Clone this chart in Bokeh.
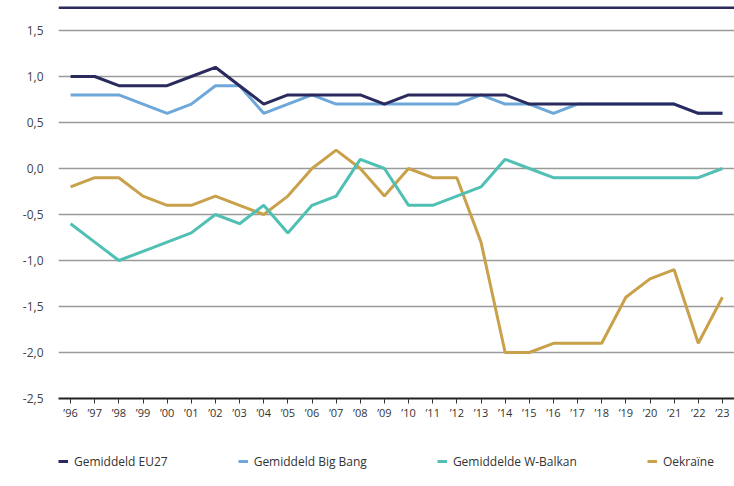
from bokeh.plotting import figure
from bokeh.models import (FactorRange, Range1d, FixedTicker, CustomJSTickFormatter,
                          Legend, LegendItem, Span)
from bokeh.layouts import column
from bokeh.embed import file_html
from bokeh.resources import INLINE

years = ["’96", "’97", "’98", "’99", "’00", "’01", "’02", "’03", "’04", "’05",
         "’06", "’07", "’08", "’09", "’10", "’11", "’12", "’13", "’14", "’15",
         "’16", "’17", "’18", "’19", "’20", "’21", "’22", "’23"]

eu27 = [1.0, 1.0, 0.9, 0.9, 0.9, 1.0, 1.1, 0.9, 0.7, 0.8,
        0.8, 0.8, 0.8, 0.7, 0.8, 0.8, 0.8, 0.8, 0.8, 0.7,
        0.7, 0.7, 0.7, 0.7, 0.7, 0.7, 0.6, 0.6]
big_bang = [0.8, 0.8, 0.8, 0.7, 0.6, 0.7, 0.9, 0.9, 0.6, 0.7,
            0.8, 0.7, 0.7, 0.7, 0.7, 0.7, 0.7, 0.8, 0.7, 0.7,
            0.6, 0.7, 0.7, 0.7, 0.7, 0.7, 0.6, 0.6]
w_balkan = [-0.6, -0.8, -1.0, -0.9, -0.8, -0.7, -0.5, -0.6, -0.4, -0.7,
            -0.4, -0.3, 0.1, 0.0, -0.4, -0.4, -0.3, -0.2, 0.1, 0.0,
            -0.1, -0.1, -0.1, -0.1, -0.1, -0.1, -0.1, 0.0]
oekraine = [-0.2, -0.1, -0.1, -0.3, -0.4, -0.4, -0.3, -0.4, -0.5, -0.3,
            0.0, 0.2, 0.0, -0.3, 0.0, -0.1, -0.1, -0.8, -2.0, -2.0,
            -1.9, -1.9, -1.9, -1.4, -1.2, -1.1, -1.9, -1.4]

series_names = ["Gemiddeld EU27", "Gemiddeld Big Bang", "Gemiddelde W-Balkan", "Oekraïne"]
series_colors = ["#2a2a5e", "#6ea8da", "#4fc0b3", "#c9a14a"]

y_ticks = [-2.5, -2.0, -1.5, -1.0, -0.5, 0.0, 0.5, 1.0, 1.5]
y_labels = ["-2,5", "-2,0", "-1,5", "-1,0", "-0,5", "0,0", "0,5", "1,0", "1,5"]
y_top = 1.761

FONT = "Open Sans"

p = figure(width=734, height=430, x_range=FactorRange(*years, range_padding=0),
           y_range=Range1d(-2.5, y_top), output_backend="svg", toolbar_location=None,
           min_border_left=58, min_border_right=0, min_border_top=6, min_border_bottom=32)
p.outline_line_color = None
p.background_fill_color = "white"
p.border_fill_color = "white"

# top rule
p.add_layout(Span(location=y_top, dimension="width", line_color="#2a2a5e", line_width=5))

# grid
p.xgrid.grid_line_color = None
p.ygrid.ticker = FixedTicker(ticks=y_ticks)
p.ygrid.grid_line_color = "#9a9a9a"
p.ygrid.grid_line_width = 1.5

# y axis
p.yaxis.ticker = FixedTicker(ticks=y_ticks)
p.yaxis.formatter = CustomJSTickFormatter(args=dict(yt=y_ticks, yl=y_labels), code="""
    for (let i = 0; i < yt.length; i++) { if (Math.abs(yt[i] - tick) < 1e-9) return yl[i]; }
    return '';
""")
p.yaxis.axis_line_color = None
p.yaxis.major_tick_line_color = None
p.yaxis.minor_tick_line_color = None
p.yaxis.major_tick_out = 0
p.yaxis.minor_tick_out = 0
p.yaxis.major_label_text_font = FONT
p.yaxis.major_label_text_font_size = "12px"
p.yaxis.major_label_text_color = "#444444"
p.yaxis.major_label_standoff = 15

# x axis
p.xaxis.axis_line_color = "#222222"
p.xaxis.axis_line_width = 2
p.xaxis.major_tick_line_color = "#333333"
p.xaxis.major_tick_out = 5
p.xaxis.major_tick_in = 0
p.xaxis.major_label_text_font = FONT
p.xaxis.major_label_text_font_size = "11px"
p.xaxis.major_label_text_color = "#333333"
p.xaxis.major_label_standoff = 1

data = [eu27, big_bang, w_balkan, oekraine]
for i in [3, 2, 1, 0]:
    p.line(years, data[i], line_color=series_colors[i], line_width=3)

# legend strip (separate figure below the axis); its lines lie outside its view
lp = figure(width=734, height=52, x_range=FactorRange(*years, range_padding=0),
            y_range=Range1d(5, 6), x_axis_type=None, y_axis_type=None,
            output_backend="svg", toolbar_location=None,
            min_border_left=0, min_border_right=0, min_border_top=0, min_border_bottom=0)
lp.outline_line_color = None
lp.xgrid.grid_line_color = None
lp.ygrid.grid_line_color = None
proxies = [lp.line(years, data[i], line_color=series_colors[i], line_width=3) for i in range(4)]

legend = Legend(items=[LegendItem(label=series_names[i], renderers=[proxies[i]]) for i in range(4)],
                location=(0, 11), orientation="horizontal", spacing=70,
                glyph_width=10, glyph_height=20, label_height=20, label_standoff=6,
                label_text_font=FONT, label_text_font_size="12px", label_text_color="#333333",
                padding=0, margin=0, border_line_color=None, background_fill_alpha=0)
lp.add_layout(legend, "center")

layout = column(p, lp, spacing=0)
open("out.html", "w").write(file_html(layout, INLINE))
